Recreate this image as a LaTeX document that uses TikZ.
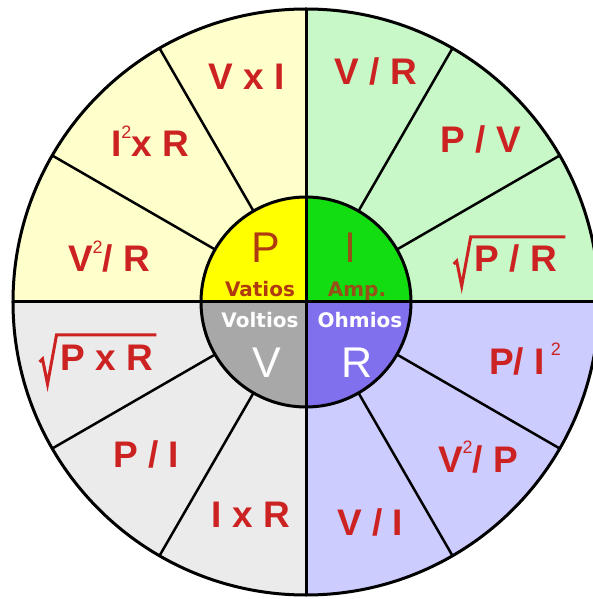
\documentclass[tikz,border=0pt]{standalone}
\usepackage{fontspec}
\setmainfont{Liberation Sans}
\newfontfamily\wordfont{DejaVu Sans}
\usetikzlibrary{calc}
\definecolor{qyel}{HTML}{FFFFCC}
\definecolor{qgrn}{HTML}{C8F8C8}
\definecolor{qgry}{HTML}{EBEBEB}
\definecolor{qlav}{HTML}{CCCCFF}
\definecolor{cyel}{HTML}{FFFF00}
\definecolor{cgrn}{HTML}{11DD11}
\definecolor{cgry}{HTML}{A8A8A8}
\definecolor{cpur}{HTML}{8070EE}
\definecolor{lblred}{HTML}{CC2222}
\definecolor{pbrown}{HTML}{B03A10}
\definecolor{ibrown}{HTML}{965018}
\newcommand{\sqtwo}{\raisebox{0.5em}{\fontsize{18}{18}\selectfont\mdseries 2}}
\begin{document}
\begin{tikzpicture}[x=1pt,y=1pt,
  lbl/.style={anchor=base, text=lblred, inner sep=0pt, font=\fontsize{37}{37}\selectfont\bfseries},
  big/.style={anchor=base, inner sep=0pt, font=\fontsize{43}{43}\selectfont},
  word/.style={anchor=base, inner sep=0pt, font=\fontsize{20}{20}\selectfont\wordfont\bfseries},
  spoke/.style={line width=2.5pt, black},
  axisline/.style={line width=3pt, black},
  ring/.style={line width=3pt, black},
  rootsign/.style={line width=3pt, lblred, line join=miter}]
\useasboundingbox (-306,-297) rectangle (287,302);
\clip (-306,-297) rectangle (287,302);
\def\R{293}
\def\r{105}
% outer quadrants
\fill[qyel] (0,0) -- (90:\R) arc (90:180:\R) -- cycle;
\fill[qgrn] (0,0) -- (0:\R) arc (0:90:\R) -- cycle;
\fill[qgry] (0,0) -- (180:\R) arc (180:270:\R) -- cycle;
\fill[qlav] (0,0) -- (270:\R) arc (270:360:\R) -- cycle;
% spokes
\foreach \a in {30,60,120,150,210,240,300,330}
  \draw[spoke] (\a:\r) -- (\a:\R);
% inner quadrants
\fill[cyel] (0,0) -- (90:\r) arc (90:180:\r) -- cycle;
\fill[cgrn] (0,0) -- (0:\r) arc (0:90:\r) -- cycle;
\fill[cgry] (0,0) -- (180:\r) arc (180:270:\r) -- cycle;
\fill[cpur] (0,0) -- (270:\r) arc (270:360:\r) -- cycle;
% axes and circles
\draw[axisline] (-\R,0) -- (\R,0);
\draw[axisline] (0,-\R) -- (0,\R);
\draw[ring] (0,0) circle (\r);
\draw[ring] (0,0) circle (\R);
% inner texts
\node[big, text=pbrown] (cP) at (-40,39.5) {P};
\node[word, text=pbrown] (wVat) at (-46,5) {Vatios};
\node[big, text=ibrown] (cI) at (44,39.5) {I};
\node[word, text=ibrown] (wAmp) at (51,5) {Amp.};
\node[word, text=white] (wVol) at (-46,-26) {Voltios};
\node[word, text=white] (wOhm) at (54,-26) {Ohmios};
\node[big, text=white] (cV) at (-39,-75) {V};
\node[big, text=white] (cR) at (51,-75) {R};
% outer labels
\node[lbl] (l1) at (-59,212.5) {V x I};
\node[lbl] (l2) at (70,217.5) {V / R};
\node[lbl] (l3) at (-156,145) {I\sqtwo x R};
\node[lbl] (l4) at (175,149) {P / V};
\node[lbl] (l5) at (-197,30) {V\sqtwo/ R};
\node[lbl] (l6) at (210,30) {P / R};
\node[lbl] (l7) at (-199,-68) {P x R};
\node[lbl] (l8) at (219,-72) {P/ I\kern6pt\sqtwo};
\node[lbl] (l9) at (-160,-165) {P / I};
\node[lbl] (l10) at (172,-170) {V\sqtwo/ P};
\node[lbl] (l11) at (-55,-225) {I x R};
\node[lbl] (l12) at (64,-233) {V / I};
% square root signs
\draw[rootsign] ($(l6.base west)+(-21,8)$) -- ($(l6.base west)+(-18,11)$) -- ($(l6.base west)+(-13,-14)$) -- ($(l6.base west)+(-4,35)$) -- ($(l6.base east)+(8,35)$);
\draw[rootsign] ($(l7.base west)+(-21,8)$) -- ($(l7.base west)+(-18,11)$) -- ($(l7.base west)+(-13,-14)$) -- ($(l7.base west)+(-4,35)$) -- ($(l7.base east)+(3,35)$);
\end{tikzpicture}
\end{document}
